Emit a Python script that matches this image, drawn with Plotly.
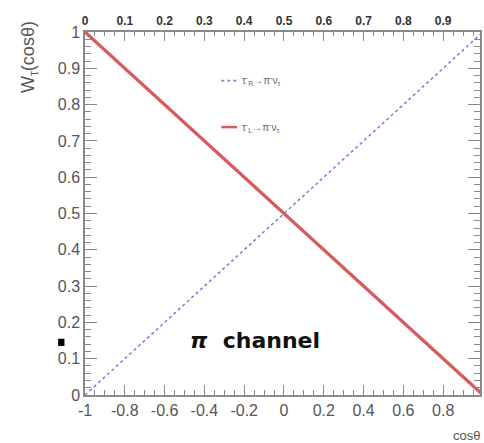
import plotly.graph_objects as go

# Angular distributions of the pion in tau -> pi nu decays
cos_theta = [-1.0, 1.0]
w_right = [0.0, 1.0]   # tau_R^- -> pi^- nu_tau
w_left = [1.0, 0.0]    # tau_L^- -> pi^- nu_tau

x_ticks = [-1, -0.8, -0.6, -0.4, -0.2, 0, 0.2, 0.4, 0.6, 0.8]
x_tick_text = ["-1", "-0.8", "-0.6", "-0.4", "-0.2", "0", "0.2", "0.4", "0.6", "0.8"]
y_ticks = [0, 0.1, 0.2, 0.3, 0.4, 0.5, 0.6, 0.7, 0.8, 0.9, 1.0]
y_tick_text = ["0", "0.1", "0.2", "0.3", "0.4", "0.5", "0.6", "0.7", "0.8", "0.9", "1"]
top_ticks = [0, 0.1, 0.2, 0.3, 0.4, 0.5, 0.6, 0.7, 0.8, 0.9]
top_tick_text = ["0", "0.1", "0.2", "0.3", "0.4", "0.5", "0.6", "0.7", "0.8", "0.9"]

X_MIN, X_MAX = -1.0, 0.985
AXIS_GRAY = "#8a8a8a"
TEXT_GRAY = "#555555"

fig = go.Figure()
fig.add_trace(go.Scatter(
    x=cos_theta, y=w_right, mode="lines",
    line=dict(color="#7f7fdc", width=1.6, dash="dot"),
    showlegend=False,
))
fig.add_trace(go.Scatter(
    x=cos_theta, y=w_left, mode="lines",
    line=dict(color="#d85a5e", width=3.2),
    showlegend=False,
))
# invisible trace to activate the top axis
fig.add_trace(go.Scatter(
    x=[0, 1], y=[0, 1], xaxis="x2", mode="markers",
    marker=dict(opacity=0), showlegend=False, hoverinfo="skip",
))

fig.update_layout(
    width=484, height=443,
    margin=dict(l=85, r=2, t=32, b=48),
    paper_bgcolor="white", plot_bgcolor="white",
    font=dict(family="Liberation Sans, Arial, sans-serif", color=TEXT_GRAY),
    xaxis=dict(
        range=[X_MIN, X_MAX], tickvals=x_ticks, ticktext=x_tick_text,
        showgrid=False, zeroline=False, showline=True, linecolor=AXIS_GRAY,
        linewidth=1.5, ticks="inside", ticklen=10, tickcolor=AXIS_GRAY,
        tickfont=dict(size=16, color=TEXT_GRAY),
        minor=dict(dtick=0.05, ticks="inside", ticklen=5, tickcolor=AXIS_GRAY),
    ),
    xaxis2=dict(
        overlaying="x", side="top",
        range=[(X_MIN + 1) / 2, (X_MAX + 1) / 2],
        tickvals=top_ticks, ticktext=top_tick_text,
        showgrid=False, zeroline=False, showline=True, linecolor=AXIS_GRAY,
        linewidth=1.5, ticks="inside", ticklen=9, tickcolor=AXIS_GRAY,
        tickfont=dict(size=12, color="#333333", family="Liberation Sans, Arial Black, sans-serif", weight="bold"),
        minor=dict(dtick=0.025, ticks="inside", ticklen=4, tickcolor=AXIS_GRAY),
    ),
    yaxis=dict(
        range=[0, 1], tickvals=y_ticks, ticktext=y_tick_text,
        showgrid=False, zeroline=False, showline=True, linecolor=AXIS_GRAY,
        linewidth=1.5, mirror="ticks", ticks="inside", ticklen=12,
        tickcolor=AXIS_GRAY, tickfont=dict(size=16, color=TEXT_GRAY),
        minor=dict(dtick=0.02, ticks="inside", ticklen=6, tickcolor=AXIS_GRAY),
    ),
)

# axis titles
fig.add_annotation(
    xref="paper", yref="paper", x=-0.14, y=0.93, xanchor="center", yanchor="middle",
    text="W<sub>τ</sub>(cosθ)", textangle=-90, showarrow=False,
    font=dict(size=18, color=TEXT_GRAY),
)
fig.add_annotation(
    xref="paper", yref="paper", x=1.005, y=-0.085, xanchor="right", yanchor="top",
    text="cosθ", showarrow=False, font=dict(size=13, color=TEXT_GRAY),
)

# legend entries drawn by hand
fig.add_shape(type="line", xref="paper", yref="paper",
              x0=0.345, x1=0.385, y0=0.866, y1=0.866,
              line=dict(color="#7f7fdc", width=1.6, dash="dot"))
fig.add_annotation(xref="paper", yref="paper", x=0.392, y=0.866,
                   xanchor="left", yanchor="middle", showarrow=False,
                   text="τ<sup>-</sup><sub>R</sub>→π<sup>-</sup>ν<sub>τ</sub>",
                   font=dict(size=10, color="#666666"))
fig.add_shape(type="line", xref="paper", yref="paper",
              x0=0.345, x1=0.385, y0=0.738, y1=0.738,
              line=dict(color="#d85a5e", width=2.5))
fig.add_annotation(xref="paper", yref="paper", x=0.392, y=0.738,
                   xanchor="left", yanchor="middle", showarrow=False,
                   text="τ<sup>-</sup><sub>L</sub>→π<sup>-</sup>ν<sub>τ</sub>",
                   font=dict(size=10, color="#666666"))

# channel label
fig.add_annotation(xref="paper", yref="paper", x=0.26, y=0.15,
                   xanchor="left", yanchor="middle", showarrow=False,
                   text="<b><i>π</i>  channel</b>",
                   font=dict(size=22, color="#111111", family="DejaVu Sans, sans-serif"))

# small black square marker at the left margin
fig.add_shape(type="rect", xref="paper", yref="paper",
              x0=-0.068, x1=-0.052, y0=0.135, y1=0.155,
              fillcolor="black", line=dict(width=0))

fig.write_html("out.html")
